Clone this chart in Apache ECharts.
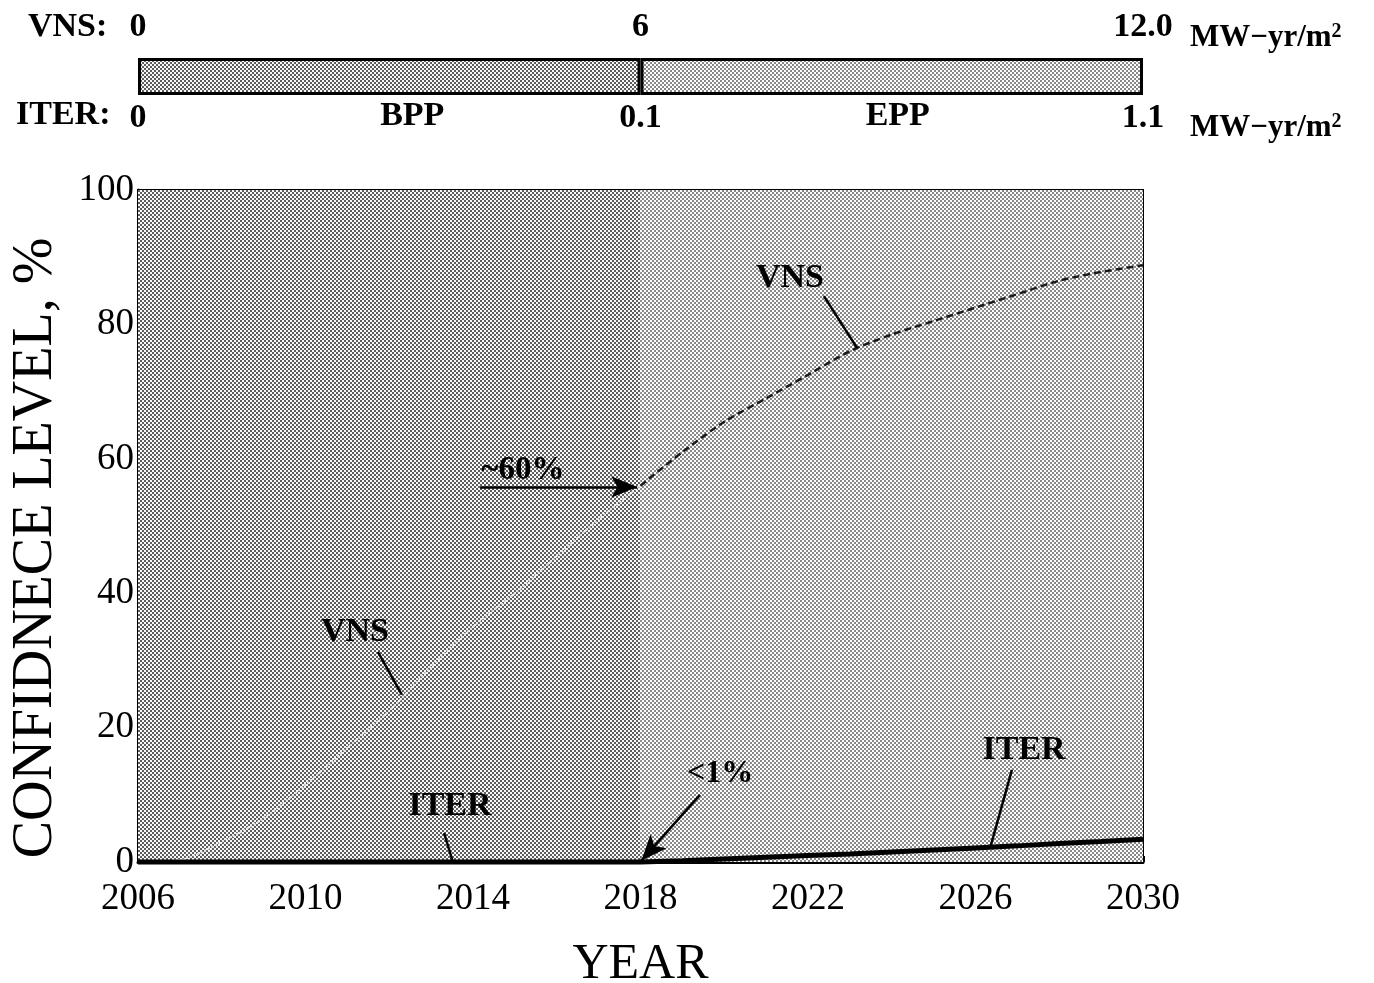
<!DOCTYPE html>
<html>
<head>
<meta charset="utf-8">
<script src="https://cdn.jsdelivr.net/npm/echarts@6/dist/echarts.min.js"></script>
<style>
html, body { margin: 0; padding: 0; background: #fff; }
#main { width: 1374px; height: 983px; }
</style>
</head>
<body>
<div id="main"></div>
<script>
// confidence level vs year
var years = [2006, 2007, 2008, 2009, 2010, 2011, 2012, 2013, 2014, 2015, 2016, 2017, 2018,
             2019, 2020, 2021, 2022, 2023, 2024, 2025, 2026, 2027, 2028, 2029, 2030];
var vnsLevel = [0, 0.3, 3, 6.5, 11.5, 17, 22.5, 29, 35, 40, 45.5, 51, 56,
                61, 65.5, 69, 72.5, 76, 78.5, 80.5, 82.5, 84.5, 86.5, 87.8, 88.8];
var iterLevel = [0, 0, 0, 0, 0, 0, 0, 0, 0, 0, 0, 0, 0,
                 0.2, 0.45, 0.7, 0.95, 1.2, 1.5, 1.8, 2.1, 2.4, 2.75, 3.05, 3.4];
var phaseEnd = 2018; // BPP -> EPP

// fluence bar on top
var phases = ['BPP', 'EPP'];
var vnsFluence = [6, 6];
var vnsTicks = ['0', '6', '12.0'];
var iterTicks = ['0', '0.1', '1.1'];

var serif = '"Liberation Serif", "DejaVu Serif", serif';

// halftone dots like the scanned figure
function dots(dark, light, size) {
    var c = document.createElement('canvas');
    c.width = 4; c.height = 4;
    var g = c.getContext('2d');
    g.fillStyle = light; g.fillRect(0, 0, 4, 4);
    g.fillStyle = dark;
    g.fillRect(0, 0, size, size);
    g.fillRect(2, 2, size, size);
    return { image: c, repeat: 'repeat' };
}
var bppFill = dots('#5e5e5e', '#f8f8f8', 2);
var eppFill = dots('#888888', '#fdfdfd', 2);

var upTo = years.indexOf(phaseEnd);
function pairs(ys, from, to) {
    var out = [];
    for (var i = from; i <= to; i++) out.push([years[i], ys[i]]);
    return out;
}

var bold = { fontFamily: serif, fontWeight: 'bold', color: '#000' };

function note(text, x, y, size) {
    return { coord: [x, y], value: text,
             label: Object.assign({ fontSize: size || 34 }, bold) };
}
function seg(x1, y1, x2, y2, head) {
    return [{ coord: [x1, y1], symbol: 'none' },
            { coord: [x2, y2], symbol: head ? 'arrow' : 'none' }];
}

var unitStyle = {
    text: 'MW\u2212yr/m{s|2}', fontSize: 31, fontFamily: serif, fontWeight: 'bold', fill: '#000',
    rich: { s: { fontSize: 20, fontFamily: serif, fontWeight: 'bold', verticalAlign: 'top', padding: [0, 0, 12, 0] } }
};

var myChart = echarts.init(document.getElementById('main'));
var option = {
    backgroundColor: '#fff',
    animation: false,
    grid: [
        { left: 138, right: 231, top: 190, bottom: 121, show: true, borderColor: '#000', borderWidth: 2,
          outerBoundsMode: 'none', containLabel: false },
        { left: 138, right: 231, top: 58, height: 37, outerBoundsMode: 'none', containLabel: false }
    ],
    xAxis: [
        {
            type: 'value', min: 2006, max: 2030, interval: 4,
            axisLine: { lineStyle: { color: '#000', width: 3 } },
            axisTick: { inside: true, length: 6, lineStyle: { color: '#000', width: 3 } },
            minorTick: { show: true, splitNumber: 2, length: 6, lineStyle: { color: '#000', width: 3 } },
            splitLine: { show: false },
            axisLabel: { fontFamily: serif, fontSize: 37, color: '#000', margin: 19,
                         formatter: function (v) { return String(v); } },
            name: 'YEAR', nameLocation: 'middle', nameGap: 78,
            nameTextStyle: { fontFamily: serif, fontSize: 50, color: '#000' }
        },
        {
            gridIndex: 1, type: 'value', position: 'top', min: 0, max: 12, interval: 6,
            axisLine: { show: false }, axisTick: { show: false }, splitLine: { show: false },
            axisLabel: { margin: 14, fontSize: 34, fontFamily: serif, fontWeight: 'bold', color: '#000',
                         formatter: function (v) { return vnsTicks[v / 6]; } }
        },
        {
            gridIndex: 1, type: 'value', position: 'bottom', min: 0, max: 12, interval: 6,
            axisLine: { show: false }, axisTick: { show: false }, splitLine: { show: false },
            axisLabel: { margin: 6, fontSize: 34, fontFamily: serif, fontWeight: 'bold', color: '#000',
                         formatter: function (v) { return iterTicks[v / 6]; } }
        }
    ],
    yAxis: [
        {
            type: 'value', min: 0, max: 100, interval: 20,
            axisLine: { show: true, lineStyle: { color: '#000', width: 3 } },
            axisTick: { show: true, inside: true, length: 6, lineStyle: { color: '#000', width: 3 } },
            minorTick: { show: true, splitNumber: 2, length: 6, lineStyle: { color: '#000', width: 3 } },
            splitLine: { show: false },
            axisLabel: { fontFamily: serif, fontSize: 37, color: '#000', margin: 4 },
            name: 'CONFIDNECE LEVEL, %', nameLocation: 'middle', nameGap: 74,
            nameTextStyle: { fontFamily: serif, fontSize: 56, color: '#000', padding: [0, 44, 0, 0] }
        },
        { gridIndex: 1, type: 'category', data: ['fluence'], show: false }
    ],
    graphic: [
        { type: 'text', left: 28, top: 10, style: Object.assign({ text: 'VNS:', fontSize: 34 }, bold) },
        { type: 'text', left: 16, top: 98, style: Object.assign({ text: 'ITER:', fontSize: 34 }, bold) },
        { type: 'text', left: 1190, top: 22, style: unitStyle },
        { type: 'text', left: 1190, top: 112, style: unitStyle }
    ],
    series: [
        {
            name: phases[0], type: 'bar', xAxisIndex: 1, yAxisIndex: 1, stack: 'fluence',
            barWidth: 37, data: [vnsFluence[0]],
            itemStyle: { color: bppFill, borderColor: '#000', borderWidth: 3 },
            label: Object.assign({ show: true, position: 'bottom', distance: 4, offset: [23, 0],
                                   fontSize: 34, formatter: phases[0] }, bold)
        },
        {
            name: phases[1], type: 'bar', xAxisIndex: 1, yAxisIndex: 1, stack: 'fluence',
            barWidth: 37, data: [vnsFluence[1]],
            itemStyle: { color: eppFill, borderColor: '#000', borderWidth: 3 },
            label: Object.assign({ show: true, position: 'bottom', distance: 4, offset: [6, 0],
                                   fontSize: 34, formatter: phases[1] }, bold)
        },
        {
            name: 'VNS', type: 'line', smooth: 0.3, symbol: 'none',
            data: pairs(vnsLevel, 0, upTo),
            lineStyle: { color: '#e6e6e6', width: 2, type: 'dotted' },
            markArea: {
                silent: true,
                data: [
                    [{ xAxis: years[0], itemStyle: { color: bppFill } }, { xAxis: phaseEnd }],
                    [{ xAxis: phaseEnd, itemStyle: { color: eppFill } }, { xAxis: years[years.length - 1] }]
                ]
            }
        },
        {
            name: 'VNS late', type: 'line', smooth: 0.3, symbol: 'none',
            data: pairs(vnsLevel, upTo, years.length - 1),
            lineStyle: { color: '#1a1a1a', width: 2.5, type: [7, 4] }
        },
        {
            name: 'ITER', type: 'line', symbol: 'none', clip: false,
            data: pairs(iterLevel, 0, years.length - 1),
            lineStyle: { color: '#000', width: 5 },
            markPoint: {
                silent: true, symbol: 'rect', symbolSize: 1,
                itemStyle: { color: 'rgba(0,0,0,0)' },
                label: { show: true, position: 'inside', formatter: '{c}' },
                data: [
                    note('VNS', 2011.18, 34.2),
                    note('VNS', 2021.57, 86.9),
                    note('ITER', 2013.45, 8.3),
                    note('ITER', 2027.16, 16.7),
                    note('~60%', 2015.19, 58.2, 33),
                    note('<1%', 2019.9, 13.2, 32)
                ]
            },
            markLine: {
                silent: true, symbolSize: [16, 26],
                lineStyle: { color: '#000', width: 2.5, type: 'solid' },
                label: { show: false },
                data: [
                    seg(2011.73, 31.25, 2012.3, 24.9),
                    seg(2022.38, 84.2, 2023.17, 76.5),
                    seg(2013.31, 4.3, 2013.52, 0),
                    seg(2026.87, 13.7, 2026.35, 2.1),
                    seg(2014.17, 55.8, 2017.92, 55.8, true),
                    seg(2019.42, 10, 2018.02, 0.2, true)
                ]
            }
        }
    ]
};
myChart.setOption(option);
</script>
</body>
</html>
